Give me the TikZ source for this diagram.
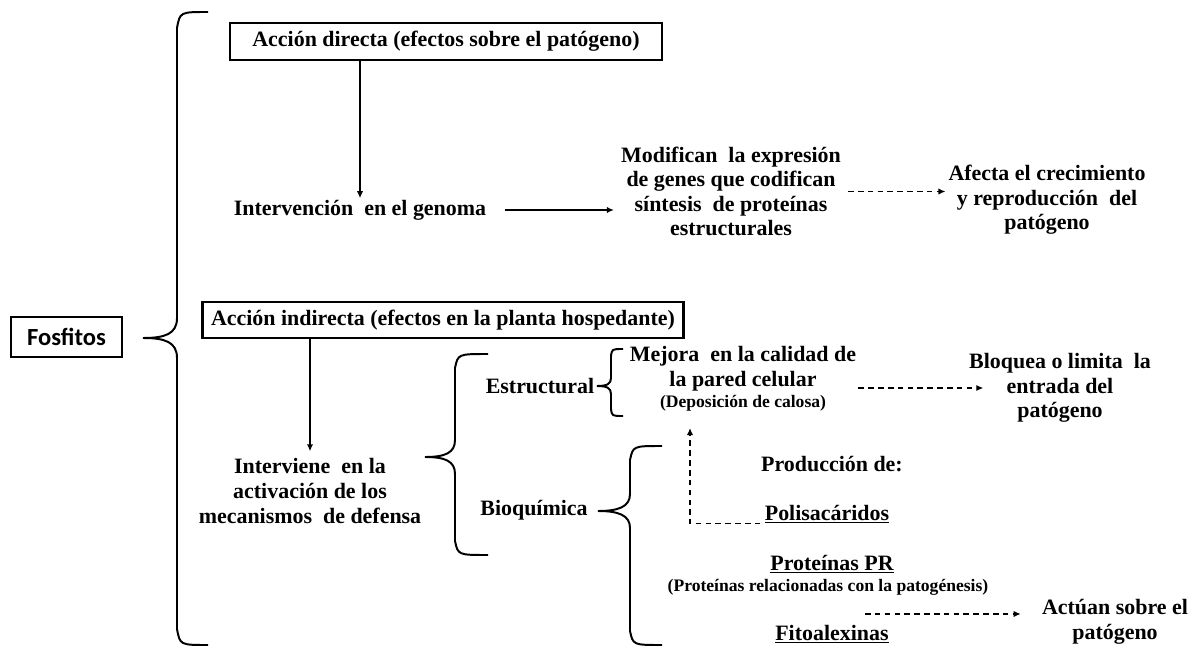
\documentclass[tikz,border=0pt]{standalone}
\usepackage{fontspec}
\setmainfont{Liberation Serif}
\newfontfamily\calibrifont{Carlito}
\usetikzlibrary{arrows.meta}

\begin{document}
\begin{tikzpicture}[x=0.025cm, y=-0.025cm, >={Latex[length=5pt,width=4.5pt]},
  every node/.style={inner sep=0pt},
  box/.style={draw, line width=2pt},
  txt/.style={font=\bfseries\fontsize{15.6}{17.5}\selectfont, align=center},
  small/.style={font=\bfseries\fontsize{12.5}{14}\selectfont, align=center},
  brace/.style={line width=1.4pt},
  arrowline/.style={->, line width=1.3pt},
  dashline/.style={->, line width=1pt, dash pattern=on 4pt off 3pt}]
  \useasboundingbox (0,0) rectangle (1200,648);

  % Root
  \node (fosfitos) [box, line width=1.8pt, minimum width=2.775cm, minimum height=1cm,
    font=\calibrifont\bfseries\fontsize{17.5}{20}\selectfont] at (66.5,337) {Fosfitos};

  % Direct action
  \node (directa) [box, txt, minimum width=10.8cm, minimum height=0.925cm] at (446,41.5)
    {Acción directa (efectos sobre el patógeno)};
  \node (genoma) [txt] at (360,210) {Intervención~ en el genoma};
  \node (modifican) [txt] at (731,191.5) {Modifican~ la expresión\\ de genes que codifican\\ síntesis~ de proteínas\\ estructurales};
  \node (afecta) [txt] at (1047,200) {Afecta el crecimiento\\ y reproducción~ del\\ patógeno};

  % Indirect action
  \node (indirecta) [box, txt, minimum width=12.025cm, minimum height=0.9cm] at (443,320)
    {Acción indirecta (efectos en la planta hospedante)};
  \node (interviene) [txt] at (310,491) {Interviene~ en la\\ activación de los\\ mecanismos~ de defensa};
  \node (estructural) [txt] at (540,386) {Estructural};
  \node (mejora) [txt] at (743,369) {Mejora~ en la calidad de\\ la pared celular};
  \node (calosa) [small] at (743,403) {(Deposición de calosa)};
  \node (bloquea) [txt] at (1060,388) {Bloquea o limita~ la\\ entrada del\\ patógeno};
  \node (bioquimica) [txt] at (534,510) {Bioquímica};
  \node (produccion) [txt] at (832,464) {Producción de:};
  \node (polisac) [txt] at (827,514) {\underline{Polisacáridos}};
  \node (protpr) [txt] at (832,564) {\underline{Proteínas PR}};
  \node (protsub) [small] at (828,587) {(Proteínas relacionadas con la patogénesis)};
  \node (fito) [txt] at (832,634) {\underline{Fitoalexinas}};
  \node (actuan) [txt] at (1115,622) {Actúan sobre el\\ patógeno};

  \coordinate (uptip) at (690,428);
  \coordinate (actstart) at (865,614);

  % Braces
  \draw[brace] (208,12) .. controls (180,12) .. (177,28) -- (177,318)
    .. controls (177,334) and (165,338) .. (143,338)
    .. controls (165,338) and (177,342) .. (177,358) -- (177,629)
    .. controls (180,645) .. (208,645);
  \draw[brace] (488,354) .. controls (458,354) .. (455,368) -- (455,440)
    .. controls (455,453) and (445,457) .. (425,457)
    .. controls (445,457) and (455,461) .. (455,474) -- (455,541)
    .. controls (458,555) .. (488,555);
  \draw[brace] (623,349) .. controls (612,349) .. (611,356) -- (611,378)
    .. controls (611,384) and (607,386) .. (597,386)
    .. controls (607,386) and (611,388) .. (611,394) -- (611,409)
    .. controls (612,416) .. (623,416);
  \draw[brace] (662,446) .. controls (633,446) .. (630,460) -- (630,494)
    .. controls (630,507) and (618,511) .. (598,511)
    .. controls (618,511) and (630,515) .. (630,528) -- (630,631)
    .. controls (633,645) .. (662,645);

  % Direct flow
  \draw[arrowline, shorten >=1pt] (directa.south -| genoma.north) -- (genoma.north);
  \draw[arrowline, shorten <=13pt, shorten >=5pt] (genoma.east) -- (genoma.east -| modifican.west);
  \draw[dashline, shorten <=5pt, shorten >=2pt] (modifican.east) -- (modifican.east -| afecta.west);

  % Indirect flow
  \draw[arrowline, shorten >=5pt] (indirecta.south -| interviene.north) -- (interviene.north);
  \draw[dashline, shorten <=1.5pt] (mejora.east |- bloquea) -- ++(127,0);
  \draw[dashline, shorten <=3pt] (polisac.south west) -| (uptip);
  \draw[dashline, shorten >=15pt] (actstart) -- (actstart -| actuan.west);
\end{tikzpicture}
\end{document}
